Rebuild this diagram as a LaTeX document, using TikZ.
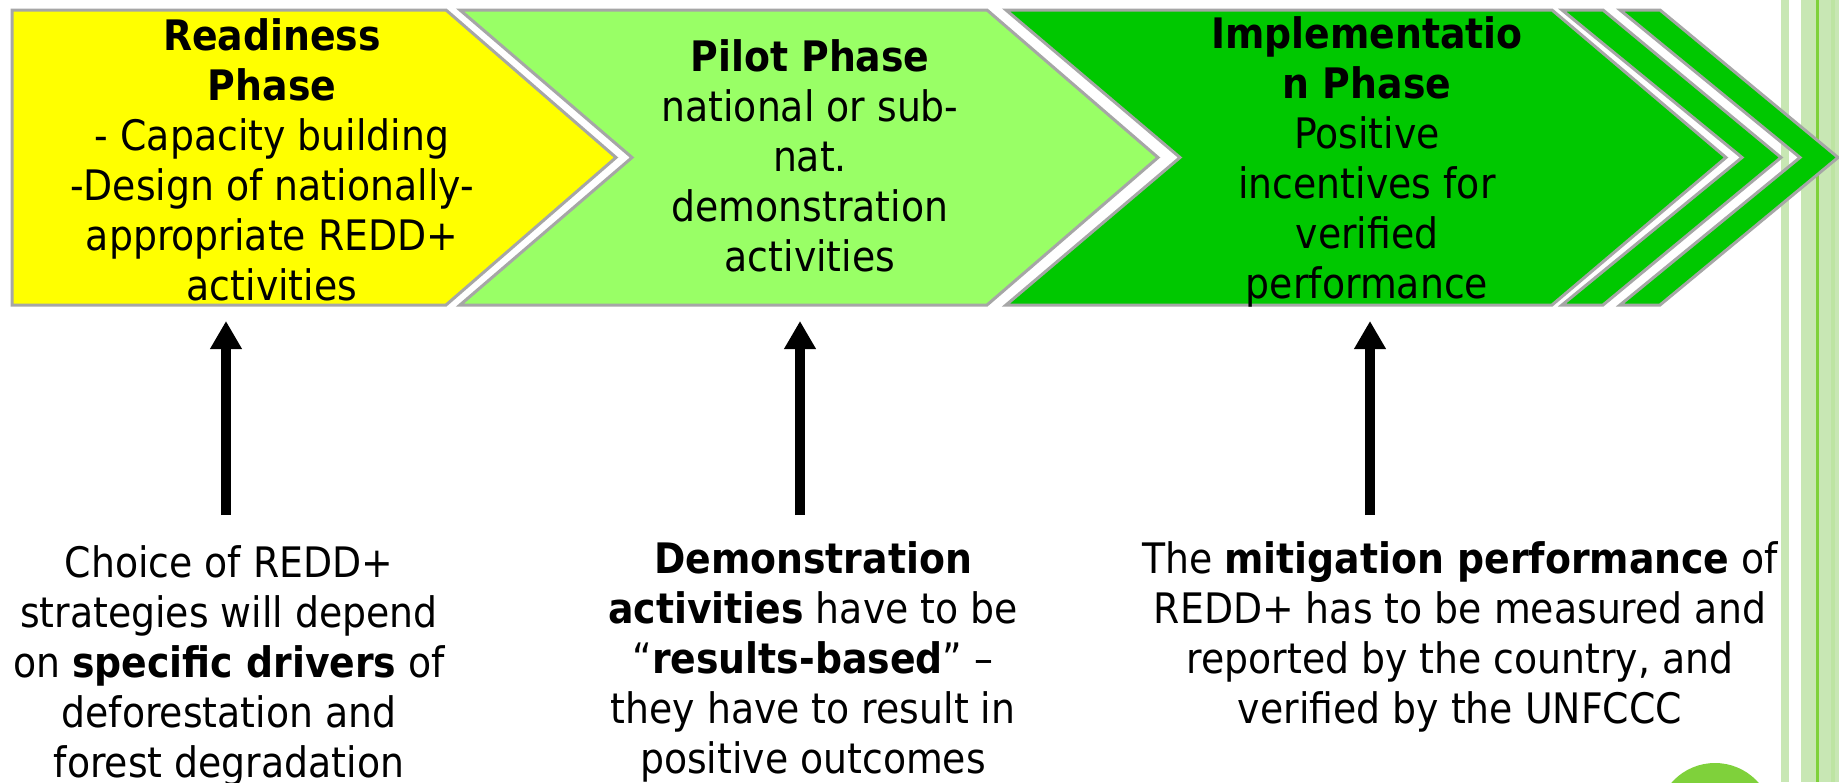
\documentclass[tikz,border=0pt]{standalone}
\usepackage{fontspec}
\setmainfont{DejaVu Sans}[FakeStretch=0.9]
\usetikzlibrary{arrows.meta}
\definecolor{yel}{RGB}{255,255,0}
\definecolor{lgreen}{RGB}{153,255,102}
\definecolor{dgreen}{RGB}{0,200,0}
\definecolor{edgegray}{RGB}{166,166,166}
\definecolor{stripe}{RGB}{200,231,180}
\definecolor{accent}{RGB}{127,209,59}
\begin{document}
\begin{tikzpicture}[x=1pt,y=-1pt,
  phase/.style={draw=edgegray,line width=3pt,line join=miter},
  txt/.style={anchor=north,align=center,inner sep=0pt,
    font=\fontsize{42}{50}\selectfont,execute at begin node=\strut},
  uparrow/.style={line width=10pt,-{Triangle[width=30pt,length=28pt]}}]
\useasboundingbox (0,0) rectangle (1839,782);
\begin{scope}
\clip (0,0) rectangle (1839,782);
\fill[white] (0,0) rectangle (1839,782);
% side stripes
\fill[stripe] (1781,0) rectangle (1789,782);
\fill[stripe] (1801,0) rectangle (1839,782);
\fill[stripe!85!accent] (1831,0) rectangle (1835,782);
\fill[accent] (1816,0) rectangle (1819,782);
% circle
\fill[accent] (1715,821) circle (58pt);
% phase shapes
\draw[phase,fill=yel] (12,10) -- (446,10) -- (616,157.5) -- (446,305) -- (12,305) -- cycle;
\draw[phase,fill=lgreen] (460,10) -- (987,10) -- (1158,157.5) -- (987,305) -- (460,305) -- (632,157.5) -- cycle;
\draw[phase,fill=dgreen] (1006,10) -- (1552,10) -- (1726,157.5) -- (1552,305) -- (1006,305) -- (1180,157.5) -- cycle;
\draw[phase,fill=dgreen] (1562,10) -- (1603,10) -- (1781,157.5) -- (1603,305) -- (1562,305) -- (1742,157.5) -- cycle;
\draw[phase,fill=dgreen] (1620,10) -- (1660,10) -- (1838,157.5) -- (1660,305) -- (1620,305) -- (1800,157.5) -- cycle;
% phase texts
\node[txt] (t1) at (272,18.5) {\textbf{Readiness}\\\textbf{Phase}\\- Capacity building\\-Design of nationally-\\appropriate REDD+\\activities};
\node[txt] (t2) at (810,39.5) {\textbf{Pilot Phase}\\national or sub-\\nat.\\demonstration\\activities};
\node[txt] (t3) at (1367,16) {\textbf{Implementatio}\\\textbf{n Phase}\\Positive\\incentives for\\verified\\performance};
% bottom texts
\node[txt] (b1) at (229,545) {Choice of REDD+\\strategies will depend\\on \textbf{specific drivers} of\\deforestation and\\forest degradation};
\node[txt] (b2) at (813,541) {\textbf{Demonstration}\\\textbf{activities} have to be\\“\textbf{results-based}” –\\they have to result in\\positive outcomes};
\node[txt] (b3) at (1460,541) {The \textbf{mitigation performance} of\\REDD+ has to be measured and\\reported by the country, and\\verified by the UNFCCC};
% arrows
\coordinate (a1s) at (226,515); \coordinate (a1e) at (226,321);
\coordinate (a2s) at (800,515); \coordinate (a2e) at (800,321);
\coordinate (a3s) at (1370,515); \coordinate (a3e) at (1370,321);
\draw[uparrow] (a1s) -- (a1e);
\draw[uparrow] (a2s) -- (a2e);
\draw[uparrow] (a3s) -- (a3e);
\end{scope}
\end{tikzpicture}
\end{document}
